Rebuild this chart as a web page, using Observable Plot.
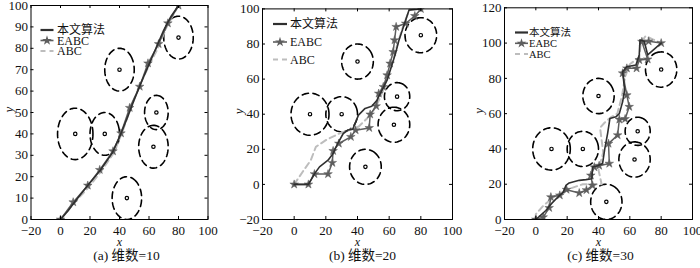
<!DOCTYPE html>
<html><head><meta charset="utf-8">
<script src="https://cdn.jsdelivr.net/npm/d3@7"></script>
<script src="https://cdn.jsdelivr.net/npm/@observablehq/plot@0.6"></script>
<style>
body{margin:0;background:#fff;}
#wrap{position:relative;width:700px;height:268px;overflow:hidden;background:#fff;}
#wrap svg{position:absolute;top:0;overflow:visible;}
</style></head><body><div id="wrap"></div>
<script>
const FONT = "'Liberation Serif','Times New Roman','Noto Sans CJK SC',serif";
const seriesNames = ["本文算法", "EABC", "ABC"];
const captions = ["(a) 维数=10", "(b) 维数=20", "(c) 维数=30"];
const xTicks = [-20, 0, 20, 40, 60, 80, 100];
const yTicksA = [0, 10, 20, 30, 40, 50, 60, 70, 80, 90, 100];
const yTicksB = [-20, 0, 20, 40, 60, 80, 100];
const yTicksC = [0, 20, 40, 60, 80, 100, 120];

// obstacles (centre x, centre y, radius)
const obsX = [10, 30, 40, 45, 65, 63, 80];
const obsY = [40, 40, 70, 10, 50, 34, 85];
const obsR = [12, 10, 10, 10, 8, 10, 10];

// panel (a) dimension 10
const aOursX = [0, 5, 10, 18, 27, 35, 40, 45, 50, 55, 60, 65, 70, 75, 80];
const aOursY = [0, 4, 8.5, 15.5, 23, 31, 38.5, 47, 56, 64.5, 72.5, 80.5, 88.5, 95, 100];
const aEabcX = [0, 8.6, 18.5, 26.6, 35.6, 41, 46.9, 53.7, 59.3, 66.5, 72.8, 80];
const aEabcY = [0, 8.1, 15.9, 23.2, 31.9, 40.3, 52.2, 62.1, 73, 82, 91.7, 100];
const aAbcX = [0, 9, 19, 27, 36, 42, 48, 54, 60, 66, 72, 80];
const aAbcY = [0, 7.5, 15, 22, 31, 41, 53, 63, 72, 80, 90, 100];

// panel (b) dimension 20
const bOursX = [0, 9, 12.8, 16, 21.4, 24.6, 27.3, 31, 34, 37, 40.6, 44.8, 49, 52.3, 55.5, 58.7, 61.4, 64, 66.2, 68.3, 70.4, 72.5, 80];
const bOursY = [0, 0, 6, 10, 13.8, 17.6, 23, 29, 31, 31.4, 39.5, 43.3, 44.5, 48, 53.7, 59.4, 67, 74.6, 82.2, 87.9, 93.6, 99.3, 100];
const bEabcX = [0, 9, 12.8, 21.4, 24.1, 24.6, 28.2, 35.8, 38.8, 47.4, 48, 51.8, 53.4, 56.3, 58.7, 60.6, 62.5, 63.4, 64.4, 70.4, 76.2, 80];
const bEabcY = [0, 0, 5.9, 5.9, 12.3, 19.1, 23.3, 27.1, 30.9, 32.2, 39.9, 44.6, 51.8, 55.6, 62.2, 68.9, 75.5, 82.2, 89.8, 91.7, 96, 100];
const bAbcX = [0, 5.4, 10.5, 13.7, 20, 28.4, 35, 40.8, 46, 50, 53, 56, 58, 60, 62, 64, 66, 68, 70, 73, 80];
const bAbcY = [0, 7.2, 13.8, 21.4, 25.2, 29, 31, 33, 37.6, 42, 47, 53, 59, 65, 70, 76, 82, 88, 93, 100, 100];

// panel (c) dimension 30
const cOursX = [0, 6.4, 10, 14.7, 17.5, 19.2, 21.3, 27.7, 32, 35.8, 36.2, 39.4, 42.6, 44, 45.8, 47.3, 51.1, 53.3, 55.4, 56.7, 55.4, 58, 63.9, 66, 66.5, 69.2, 71.4, 80];
const cOursY = [0, 5.1, 9, 13.3, 15.5, 19.3, 20.7, 22.2, 22.6, 23.1, 29.7, 30.5, 31.7, 40, 48.7, 57.3, 58.2, 60, 66.7, 73.4, 83.8, 86.6, 87.6, 93.3, 101.8, 101, 93.3, 100];
const cEabcX = [0, 4.7, 8.5, 9.6, 15.3, 19.6, 27.7, 32.3, 36.2, 35.1, 37.3, 40.4, 46.9, 46.4, 52.2, 53.3, 57, 59.6, 58.1, 55.4, 58.1, 64.3, 66, 71.4, 67.7, 72, 80];
const cEabcY = [0, 1.3, 6.6, 12.7, 13.7, 16.9, 15, 16.7, 19.3, 25, 29.7, 30.5, 31.7, 43, 47.8, 56.7, 57, 63.9, 70.5, 82.9, 85.7, 85.7, 90.4, 90.8, 100.8, 101, 100];
const cAbcX = [0, 0, 5, 12, 20, 30, 36, 42, 40, 43, 42, 41, 44, 48, 52, 55, 57, 60, 66, 67, 70, 75, 80];
const cAbcY = [0, 3, 8, 13, 17, 20, 20, 20, 28, 38, 45, 52, 55, 58, 60, 70, 81, 88, 92, 100, 104, 102, 100];

const colOurs = "#2f2f2f", colEabc = "#5e5e5e", colAbc = "#bdbdbd";

function pts(xs, ys) { return xs.map((x, i) => ({x, y: ys[i]})); }
const circlePts = obsX.flatMap((cx, i) => d3.range(0, 73).map(k => {
  const t = k / 72 * 2 * Math.PI + 0.3 * i;
  return {id: i, x: cx + obsR[i] * Math.cos(t), y: obsY[i] + obsR[i] * Math.sin(t)};
}));
const centres = obsX.map((x, i) => ({x, y: obsY[i]}));

const wrap = document.getElementById("wrap");

function panel(cfg) {
  const H = 268;
  const fw = cfg.width - cfg.ml - cfg.mr;
  const fh = H - cfg.mt - cfg.mb;
  const svg = Plot.plot({
    width: cfg.width, height: H,
    marginLeft: cfg.ml, marginRight: cfg.mr, marginTop: cfg.mt, marginBottom: cfg.mb,
    style: {fontFamily: FONT, fontSize: "13px", background: "transparent", color: "#111", overflow: "visible"},
    x: {domain: [-20, 100], ticks: xTicks},
    y: {domain: cfg.yDomain, ticks: cfg.yTicks},
    marks: [
      Plot.line(circlePts, {x: "x", y: "y", z: "id", stroke: "#000", strokeWidth: 1.6, strokeDasharray: "6.5,4.5", clip: true}),
      Plot.dot(centres, {x: "x", y: "y", r: 1.7, stroke: "#000", strokeWidth: 1.2}),
      Plot.line(pts(cfg.abcX, cfg.abcY), {x: "x", y: "y", stroke: colAbc, strokeWidth: 2, strokeDasharray: "6,4", clip: true}),
      Plot.line(pts(cfg.eabcX, cfg.eabcY), {x: "x", y: "y", stroke: colEabc, strokeWidth: 1.5, clip: true}),
      Plot.dot(pts(cfg.eabcX, cfg.eabcY), {x: "x", y: "y", symbol: "star", r: 2.7, fill: colEabc, stroke: colEabc, strokeWidth: 0.5, clip: true}),
      Plot.line(pts(cfg.oursX, cfg.oursY), {x: "x", y: "y", stroke: colOurs, strokeWidth: 1.6, clip: true}),
      Plot.frame({stroke: "#000", strokeWidth: 1}),
      Plot.ruleX(xTicks, {x: d => d, insetTop: fh - 3, stroke: "#000"}),
      Plot.ruleX(xTicks, {x: d => d, insetBottom: fh - 3, stroke: "#000"}),
      Plot.ruleY(cfg.yTicks, {y: d => d, insetRight: fw - 3, stroke: "#000"}),
      Plot.ruleY(cfg.yTicks, {y: d => d, insetLeft: fw - 3, stroke: "#000"}),
      Plot.axisX(xTicks, {anchor: "bottom", tickSize: 0, tickPadding: 6, label: null, fontSize: 13}),
      Plot.axisY(cfg.yTicks, {anchor: "left", tickSize: 0, tickPadding: 3, label: null, fontSize: 13}),
      Plot.text(["x"], {frameAnchor: "bottom", dy: 26, text: d => d, fontStyle: "italic", fontSize: 12}),
      Plot.text(["y"], {frameAnchor: "left", dx: cfg.ylabDx, text: d => d, fontStyle: "italic", fontSize: 13, rotate: -90}),
      Plot.text([cfg.caption], {frameAnchor: "bottom", dy: 40.5, dx: cfg.capDx, text: d => d, fontSize: 13.5})
    ]
  });
  svg.style.left = cfg.left + "px";
  wrap.appendChild(svg);
}

panel({left: 0, width: 233, ml: 30.5, mr: 25.5, mt: 5, mb: 49, yDomain: [0, 100], yTicks: yTicksA,
  oursX: aOursX, oursY: aOursY, eabcX: aEabcX, eabcY: aEabcY, abcX: aAbcX, abcY: aAbcY,
  caption: captions[0], ylabDx: -22, capDx: 7});
panel({left: 233, width: 233, ml: 29, mr: 14, mt: 8.4, mb: 49, yDomain: [-20, 100], yTicks: yTicksB,
  oursX: bOursX, oursY: bOursY, eabcX: bEabcX, eabcY: bEabcY, abcX: bAbcX, abcY: bAbcY,
  caption: captions[1], ylabDx: -24, capDx: 5});
panel({left: 466, width: 234, ml: 38, mr: 8, mt: 7.3, mb: 49, yDomain: [0, 120], yTicks: yTicksC,
  oursX: cOursX, oursY: cOursY, eabcX: cEabcX, eabcY: cEabcY, abcX: cAbcX, abcY: cAbcY,
  caption: captions[2], ylabDx: -26, capDx: 2});

// legends (overlay)
function legend(x0, len, tx, ys, fs) {
  const ns = "http://www.w3.org/2000/svg";
  const s = document.createElementNS(ns, "svg");
  s.setAttribute("width", 700); s.setAttribute("height", 268);
  s.style.left = "0px"; s.style.pointerEvents = "none";
  const styles = [
    {stroke: colOurs, w: 2.2, dash: null, star: false},
    {stroke: colEabc, w: 1.6, dash: null, star: true},
    {stroke: colAbc, w: 2, dash: "5,4", star: false}
  ];
  seriesNames.forEach((name, i) => {
    const st = styles[i];
    const l = document.createElementNS(ns, "line");
    l.setAttribute("x1", x0); l.setAttribute("x2", x0 + len);
    l.setAttribute("y1", ys[i]); l.setAttribute("y2", ys[i]);
    l.setAttribute("stroke", st.stroke); l.setAttribute("stroke-width", st.w);
    if (st.dash) l.setAttribute("stroke-dasharray", st.dash);
    s.appendChild(l);
    if (st.star) {
      const p = document.createElementNS(ns, "path");
      p.setAttribute("d", d3.symbol(d3.symbolStar, 30)());
      p.setAttribute("transform", `translate(${x0 + len / 2},${ys[i]})`);
      p.setAttribute("fill", colEabc);
      s.appendChild(p);
    }
    const t = document.createElementNS(ns, "text");
    t.setAttribute("x", tx); t.setAttribute("y", ys[i]);
    t.setAttribute("dy", "0.35em");
    t.setAttribute("font-size", fs);
    t.setAttribute("font-family", FONT);
    t.setAttribute("fill", "#111");
    t.textContent = name;
    s.appendChild(t);
  });
  wrap.appendChild(s);
}
legend(40.5, 13, 57, [30, 40.5, 51], 12);
legend(273, 14, 290, [24, 42, 59.5], 12);
legend(515, 13, 529, [32.5, 43.3, 54], 10.5);
</script>
</body></html>
